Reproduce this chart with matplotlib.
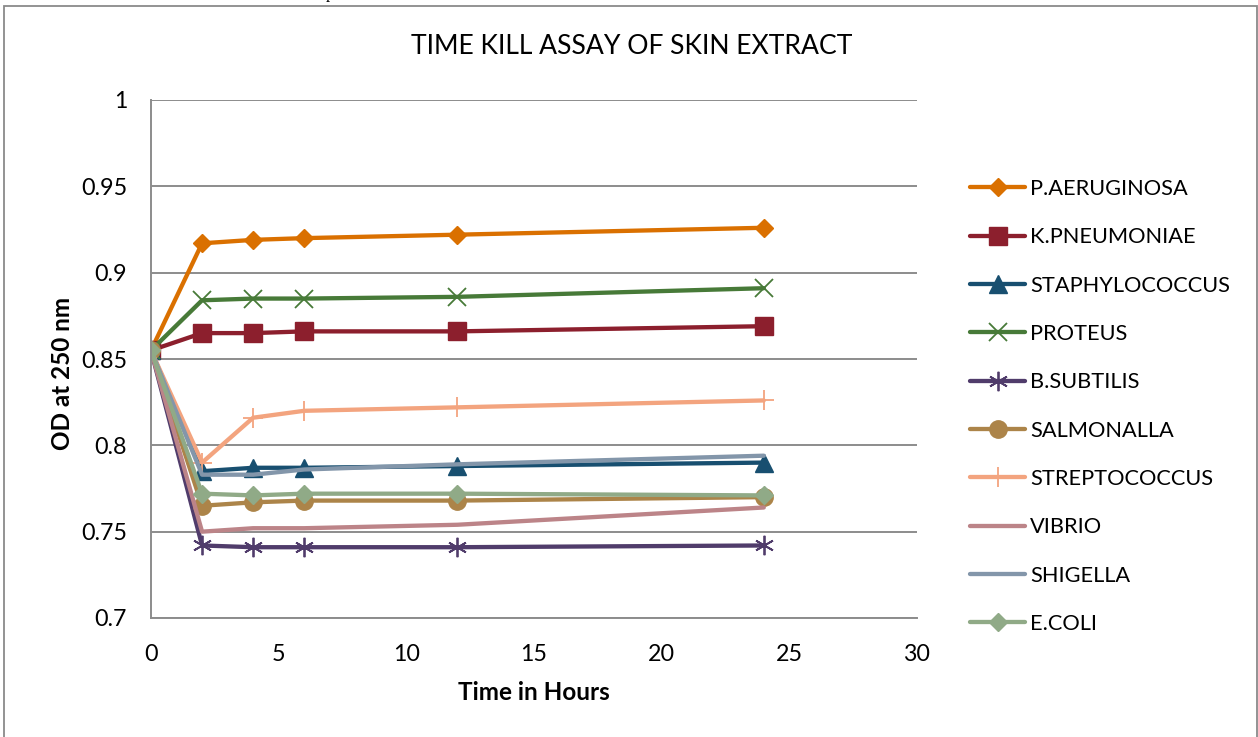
import matplotlib
matplotlib.use("Agg")
import matplotlib.pyplot as plt
from matplotlib.patches import Rectangle

# ---- data ----
hours = [0, 2, 4, 6, 12, 24]
p_aeruginosa = [0.855, 0.917, 0.919, 0.920, 0.922, 0.926]
k_pneumoniae = [0.855, 0.865, 0.865, 0.866, 0.866, 0.869]
staphylococcus = [0.855, 0.785, 0.787, 0.787, 0.788, 0.790]
proteus = [0.855, 0.884, 0.885, 0.885, 0.886, 0.891]
b_subtilis = [0.855, 0.742, 0.741, 0.741, 0.741, 0.742]
salmonalla = [0.855, 0.765, 0.767, 0.768, 0.768, 0.770]
streptococcus = [0.855, 0.790, 0.816, 0.820, 0.822, 0.826]
vibrio = [0.855, 0.750, 0.752, 0.752, 0.754, 0.764]
shigella = [0.855, 0.783, 0.783, 0.786, 0.789, 0.794]
e_coli = [0.855, 0.772, 0.771, 0.772, 0.772, 0.771]

series_names = ["P.AERUGINOSA", "K.PNEUMONIAE", "STAPHYLOCOCCUS", "PROTEUS",
                "B.SUBTILIS", "SALMONALLA", "STREPTOCOCCUS", "VIBRIO",
                "SHIGELLA", "E.COLI"]
series_values = [p_aeruginosa, k_pneumoniae, staphylococcus, proteus,
                 b_subtilis, salmonalla, streptococcus, vibrio, shigella, e_coli]

x_ticks = [0, 5, 10, 15, 20, 25, 30]
y_ticks = [0.7, 0.75, 0.8, 0.85, 0.9, 0.95, 1.0]
y_tick_labels = ["0.7", "0.75", "0.8", "0.85", "0.9", "0.95", "1"]

title = "TIME KILL ASSAY OF SKIN EXTRACT"
x_label = "Time in Hours"
y_label = "OD at 250 nm"

# ---- styles ----
styles = [
    dict(color="#DA7000", marker="D", ms=9.5, mec="#DA7000"),
    dict(color="#8C1F2D", marker="s", ms=12.5, mec="#8C1F2D"),
    dict(color="#184F70", marker="^", ms=13, mec="#184F70"),
    dict(color="#477A38", marker="x", ms=13, mew=1.3),
    dict(color="#503C6B", marker=(6, 2, 0), ms=14, mew=1.3),
    dict(color="#AC8449", marker="o", ms=12.5, mec="#AC8449"),
    dict(color="#F3A47F", marker="+", ms=14, mew=1.3),
    dict(color="#BC8488", marker=None),
    dict(color="#8396AA", marker=None),
    dict(color="#90AA87", marker="D", ms=9.5, mec="#90AA87"),
]

FONT = "Lato"
W, H = 1258, 737
DPI = 100
fig = plt.figure(figsize=(W / DPI, H / DPI), dpi=DPI)
fig.patch.set_facecolor("white")
renderer = fig.canvas.get_renderer()


def fit_size(text, target_px, weight="normal", base=15.0):
    t = fig.text(0, 0, text, fontsize=base, family=FONT, fontweight=weight)
    w = t.get_window_extent(renderer=renderer).width
    t.remove()
    return base * target_px / w


tick_fs = fit_size("0.95", 46)
title_fs = fit_size(title, 443)
label_fs = fit_size(x_label, 152, weight="bold")
legend_fs = fit_size("STAPHYLOCOCCUS", 201)
px_per_pt = DPI / 72.0

# outer chart frame
fig.patches.append(Rectangle((4 / W, -0.02), 1253 / W, (H - 6) / H + 0.02,
                             transform=fig.transFigure, fill=False,
                             edgecolor="#8A8A8A", linewidth=1.3))
fig.text(330 / W, 1 + 1.5 / H, "p", fontsize=12, family="Liberation Serif",
         ha="center", va="baseline", color="black")

ax = fig.add_axes([151 / W, 1 - 618 / H, 766 / W, 518 / H])

for name, vals, st in zip(series_names, series_values, styles):
    st = dict(st)
    color = st.pop("color")
    ax.plot(hours, vals, color=color, linewidth=3.1, label=name,
            solid_capstyle="round", solid_joinstyle="round", **st)

ax.set_xlim(0, 30)
ax.set_ylim(0.7, 1.0)
ax.set_xticks(x_ticks)
ax.set_yticks(y_ticks)
ax.set_yticklabels(y_tick_labels)
ax.yaxis.grid(True, color="#8C8C8C", linewidth=1.4)
ax.set_axisbelow(True)
for s in ["top", "right"]:
    ax.spines[s].set_visible(False)
for s in ["left", "bottom"]:
    ax.spines[s].set_color("#8C8C8C")
    ax.spines[s].set_linewidth(1.4)
ax.tick_params(axis="both", length=0, labelsize=tick_fs)
ax.tick_params(axis="x", pad=26 / px_per_pt)
ax.tick_params(axis="y", pad=24 / px_per_pt)
for lab in ax.get_xticklabels() + ax.get_yticklabels():
    lab.set_family(FONT)

ax.set_xlabel(x_label, fontsize=label_fs, fontweight="bold", family=FONT)
ax.set_ylabel(y_label, fontsize=label_fs, fontweight="bold", family=FONT)
ax.xaxis.set_label_coords(534 / W, 1 - 692 / H, transform=fig.transFigure)
ax.xaxis.label.set_va("center")
ax.yaxis.set_label_coords(62 / W, 1 - 373 / H, transform=fig.transFigure)
ax.yaxis.label.set_va("center")

fig.text(632 / W, 1 - 47 / H, title, fontsize=title_fs, family=FONT,
         ha="center", va="center")

# legend: tune spacing so rows are 48.3 px apart, first row centred at y=187.5
fpx = legend_fs * px_per_pt
lab_sp = 1.0
anchor_y = 170.0
for _ in range(3):
    leg = ax.legend(loc="upper left", bbox_to_anchor=(970 / W, 1 - anchor_y / H),
                    bbox_transform=fig.transFigure, frameon=False,
                    prop=dict(family=FONT, size=legend_fs), handlelength=55 / fpx,
                    handletextpad=5 / fpx, labelspacing=lab_sp, borderpad=0,
                    borderaxespad=0)
    fig.canvas.draw()
    lines = leg.get_lines()
    ys = [H - l.get_window_extent(renderer).y0 - l.get_window_extent(renderer).height / 2
          for l in lines]
    pitch = (ys[-1] - ys[0]) / (len(ys) - 1)
    lab_sp += (48.3 - pitch) / fpx
    anchor_y += 187.5 - ys[0]

fig.savefig("out.png", dpi=DPI)
